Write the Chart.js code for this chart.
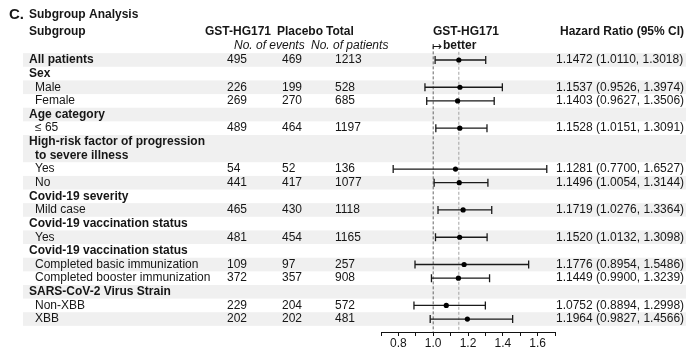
<!DOCTYPE html>
<html>
<head>
<meta charset="utf-8">
<script src="https://cdn.jsdelivr.net/npm/chart.js@4/dist/chart.umd.min.js"></script>
<style>
  html, body { margin: 0; padding: 0; background: #fff; overflow: hidden; }
  canvas { display: block; }
</style>
</head>
<body>
<canvas id="forest" width="691" height="349"></canvas>
<script>
// table rows, top to bottom
const subgroups = [
  "All patients", "Sex", "Male", "Female", "Age category", "≤ 65",
  "High-risk factor of progression\nto severe illness", "Yes", "No",
  "Covid-19 severity", "Mild case", "Covid-19 vaccination status", "Yes",
  "Covid-19 vaccination status", "Completed basic immunization",
  "Completed booster immunization", "SARS-CoV-2 Virus Strain", "Non-XBB", "XBB"
];
const isGroupHeader = [true, true, false, false, true, false, true, false, false,
  true, false, true, false, true, false, false, true, false, false];
const hgEvents      = [495, null, 226, 269, null, 489, null, 54, 441, null, 465, null, 481, null, 109, 372, null, 229, 202];
const placeboEvents = [469, null, 199, 270, null, 464, null, 52, 417, null, 430, null, 454, null, 97, 357, null, 204, 202];
const totalPatients = [1213, null, 528, 685, null, 1197, null, 136, 1077, null, 1118, null, 1165, null, 257, 908, null, 572, 481];
const hazardRatio = [1.1472, null, 1.1537, 1.1403, null, 1.1528, null, 1.1281, 1.1496, null, 1.1719, null, 1.1520, null, 1.1776, 1.1449, null, 1.0752, 1.1964];
const ciLower     = [1.0110, null, 0.9526, 0.9627, null, 1.0151, null, 0.7700, 1.0054, null, 1.0276, null, 1.0132, null, 0.8954, 0.9900, null, 0.8894, 0.9827];
const ciUpper     = [1.3018, null, 1.3974, 1.3506, null, 1.3091, null, 1.6527, 1.3144, null, 1.3364, null, 1.3098, null, 1.5486, 1.3239, null, 1.2998, 1.4566];
const xTickLabels = [0.8, 1.0, 1.2, 1.4, 1.6];
const refLine = 1.0;
const overallHR = hazardRatio[0];

const FONT = "'Liberation Sans', Arial, Helvetica, sans-serif";
const TEXT = "#161616";

// each label line takes one y unit, a two-line label takes two
const rowStart = [], rowCenter = [];
let nLines = 0;
subgroups.forEach(function (s) {
  const n = s.split("\n").length;
  rowStart.push(nLines);
  rowCenter.push(nLines + (n - 1) / 2);
  nLines += n;
});

const ciSegments = [], ciCaps = [], hrPoints = [];
hazardRatio.forEach(function (hr, i) {
  if (hr === null) return;
  ciSegments.push({ x: ciLower[i], y: rowCenter[i] }, { x: ciUpper[i], y: rowCenter[i] }, { x: null, y: null });
  ciCaps.push({ x: ciLower[i], y: rowCenter[i] }, { x: ciUpper[i], y: rowCenter[i] });
  hrPoints.push({ x: hr, y: rowCenter[i] });
});

const tablePlugin = {
  id: "table",
  beforeDraw(chart) {
    const ctx = chart.ctx;
    const y = chart.scales.y;
    ctx.save();
    ctx.fillStyle = "#fff";
    ctx.fillRect(0, 0, chart.width, chart.height);
    ctx.fillStyle = "#f0f0f0";
    subgroups.forEach(function (s, i) {
      if (i % 2 !== 0) return;
      const n = s.split("\n").length;
      const top = y.getPixelForValue(rowStart[i] - 0.5);
      const bottom = y.getPixelForValue(rowStart[i] + n - 0.5);
      ctx.fillRect(23, top, 663, bottom - top);
    });
    ctx.restore();
  },
  afterDraw(chart) {
    const ctx = chart.ctx;
    const y = chart.scales.y;
    ctx.save();
    ctx.fillStyle = TEXT;
    ctx.textBaseline = "middle";
    ctx.textAlign = "left";

    ctx.font = "bold 15px " + FONT;
    ctx.fillText("C.", 9, 15);
    ctx.font = "bold 12px " + FONT;
    ctx.fillText("Subgroup Analysis", 29, 15);
    ctx.fillText("Subgroup", 29, 32);
    ctx.fillText("GST-HG171", 205, 32);
    ctx.fillText("Placebo", 277, 32);
    ctx.fillText("Total", 326, 32);
    ctx.fillText("GST-HG171", 433, 32);
    ctx.fillText("Hazard Ratio (95% CI)", 560, 32);
    ctx.font = "italic 12px " + FONT;
    ctx.fillText("No. of events", 234, 46);
    ctx.fillText("No. of patients", 311, 46);
    ctx.font = "12px " + FONT;
    ctx.fillText("↦", 432, 47);
    const aw = ctx.measureText("↦").width;
    ctx.font = "bold 12px " + FONT;
    ctx.fillText("better", 433 + aw, 46);

    subgroups.forEach(function (s, i) {
      const lines = s.split("\n");
      ctx.font = (isGroupHeader[i] ? "bold " : "") + "12px " + FONT;
      lines.forEach(function (t, j) {
        const x = isGroupHeader[i] && j === 0 ? 29 : 35;
        ctx.fillText(t, x, y.getPixelForValue(rowStart[i] + j));
      });
      if (hazardRatio[i] === null) return;
      const yc = y.getPixelForValue(rowCenter[i]);
      ctx.font = "12px " + FONT;
      ctx.fillText(String(hgEvents[i]), 227, yc);
      ctx.fillText(String(placeboEvents[i]), 282, yc);
      ctx.fillText(String(totalPatients[i]), 335, yc);
      ctx.fillText(hazardRatio[i].toFixed(4) + " (" + ciLower[i].toFixed(4) + ", " + ciUpper[i].toFixed(4) + ")", 556, yc);
    });
    ctx.restore();
  }
};

new Chart(document.getElementById("forest"), {
  type: "scatter",
  data: {
    datasets: [
      {
        label: "HR",
        data: hrPoints,
        pointRadius: 2.6,
        pointBackgroundColor: "#000",
        pointBorderColor: "#000",
        pointBorderWidth: 0
      },
      {
        label: "caps",
        data: ciCaps,
        pointStyle: "line",
        rotation: 90,
        pointRadius: 4,
        pointBorderColor: "#1a1a1a",
        pointBorderWidth: 1.3
      },
      {
        label: "CI",
        data: ciSegments,
        showLine: true,
        spanGaps: false,
        pointRadius: 0,
        borderColor: "#1a1a1a",
        borderWidth: 1.3
      },
      {
        label: "overall",
        data: [{ x: overallHR, y: -0.6 }, { x: overallHR, y: nLines - 0.05 }],
        showLine: true,
        pointRadius: 0,
        borderColor: "#9a9a9a",
        borderWidth: 0.9,
        borderDash: [3, 2]
      },
      {
        label: "null",
        data: [{ x: refLine, y: -1 }, { x: refLine, y: nLines - 0.05 }],
        showLine: true,
        pointRadius: 0,
        borderColor: "#555",
        borderWidth: 0.9,
        borderDash: [3, 2]
      }
    ]
  },
  options: {
    responsive: false,
    animation: false,
    devicePixelRatio: 1,
    layout: { padding: { left: 381, right: 136, top: 46.35, bottom: 0 } },
    plugins: {
      legend: { display: false },
      tooltip: { enabled: false }
    },
    scales: {
      x: {
        type: "linear",
        min: 0.7,
        max: 1.7,
        afterFit: function (scale) { scale.height = 17; },
        border: { display: true, color: "#111", width: 1 },
        grid: { drawOnChartArea: false, drawTicks: true, tickLength: 4, color: "#111", lineWidth: 1 },
        ticks: {
          stepSize: 0.1,
          padding: 0,
          autoSkip: false,
          maxRotation: 0,
          color: TEXT,
          font: { family: FONT, size: 12 },
          callback: function (v) {
            const hit = xTickLabels.find(function (t) { return Math.abs(t - v) < 1e-6; });
            return hit === undefined ? "" : hit.toFixed(1);
          }
        }
      },
      y: {
        type: "linear",
        display: false,
        reverse: true,
        min: -1,
        max: nLines - 0.05
      }
    }
  },
  plugins: [tablePlugin]
});
</script>
</body>
</html>
